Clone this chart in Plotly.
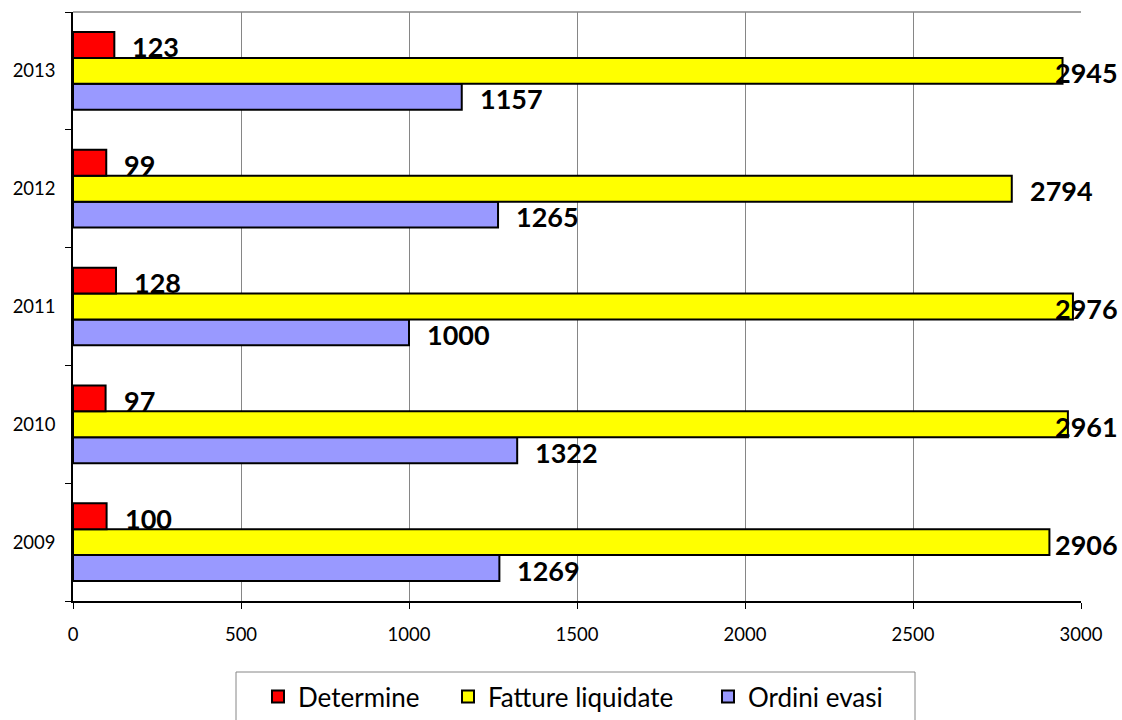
import plotly.graph_objects as go

# Data
years = [2009, 2010, 2011, 2012, 2013]
determine = [100, 97, 128, 99, 123]
fatture_liquidate = [2906, 2961, 2976, 2794, 2945]
ordini_evasi = [1269, 1322, 1000, 1265, 1157]

x_max = 3000
x_ticks = [0, 500, 1000, 1500, 2000, 2500, 3000]

# Layout geometry (pixels)
W, H = 1122, 720
M_L, M_R, M_T, M_B = 73, 41, 12, 119
plot_w = W - M_L - M_R
plot_h = H - M_T - M_B


def px_to_paper_x(px):
    return (px - M_L) / plot_w


def px_to_paper_y(py):
    return (H - M_B - py) / plot_h


BAR_GAP = 0.34
bar_w = (1 - BAR_GAP) / 3

fig = go.Figure()

# Traces are added bottom-to-top within each year group;
# legendwidth widens each legend entry to spread the legend row out
series = [
    ("Ordini evasi", ordini_evasi, "#9999FF", 3, -bar_w, 140),
    ("Fatture liquidate", fatture_liquidate, "#FFFF00", 2, 0.0, 215),
    ("Determine", determine, "#FF0000", 1, bar_w, 145),
]

for name, vals, color, rank, _, lw in series:
    fig.add_trace(go.Bar(
        name=name, y=years, x=vals, orientation="h",
        marker=dict(color=color, line=dict(color="black", width=2)),
        legendrank=rank, legendwidth=lw,
    ))

# Value labels: placed past the bar end, kept inside the right edge of the chart
label_font = dict(family="Lato", size=27, color="black")
digit_w = 15.5
right_limit = 1115 - M_L
for name, vals, color, rank, off, _ in series:
    for yr, v in zip(years, vals):
        end_px = v / x_max * plot_w
        txt_w = len(str(v)) * digit_w
        shift = min(16, right_limit - end_px - txt_w)
        fig.add_annotation(
            x=v, y=yr + off, text=f"<b>{v}</b>", showarrow=False,
            xanchor="left", yanchor="middle", xshift=shift, yshift=-2,
            font=label_font,
        )

# Top border of plot area
fig.add_shape(type="line", xref="paper", yref="paper", x0=0, x1=1, y0=1, y1=1,
              line=dict(color="#868686", width=1.5))

# Legend frame
fig.add_shape(type="rect", xref="paper", yref="paper",
              x0=px_to_paper_x(236), x1=px_to_paper_x(915),
              y0=px_to_paper_y(672), y1=px_to_paper_y(735),
              line=dict(color="#868686", width=1), fillcolor="rgba(0,0,0,0)",
              layer="above")

fig.update_layout(
    width=W, height=H,
    margin=dict(l=M_L, r=M_R, t=M_T, b=M_B, autoexpand=False),
    paper_bgcolor="white", plot_bgcolor="white",
    barmode="group", bargap=BAR_GAP, bargroupgap=0,
    font=dict(family="Lato", color="black"),
    showlegend=True,
    legend=dict(
        orientation="h", x=px_to_paper_x(258), xanchor="left",
        y=px_to_paper_y(673), yanchor="top",
        font=dict(family="Lato", size=26, color="black"),
        borderwidth=0, bgcolor="rgba(0,0,0,0)",
        itemwidth=30,
    ),
    xaxis=dict(
        range=[0, x_max], tickvals=x_ticks, ticktext=[str(t) for t in x_ticks],
        showgrid=True, gridcolor="#868686", gridwidth=1,
        showline=True, linecolor="black", linewidth=1.5,
        ticks="outside", ticklen=6, tickcolor="black",
        tickfont=dict(family="Lato", size=18.5), zeroline=False,
        ticklabelstandoff=10,
        fixedrange=True,
    ),
    yaxis=dict(
        range=[years[0] - 0.5, years[-1] + 0.5],
        tickvals=years, ticktext=[str(y) for y in years],
        ticks="", showgrid=False, zeroline=False,
        showline=True, linecolor="black", linewidth=1.5,
        tickfont=dict(family="Lato", size=18.5),
        ticklabelstandoff=12,
        minor=dict(tickvals=[y - 0.5 for y in years] + [years[-1] + 0.5],
                   ticks="outside", ticklen=6, tickcolor="black", showgrid=False),
        fixedrange=True,
    ),
)

fig.write_html("out.html")
